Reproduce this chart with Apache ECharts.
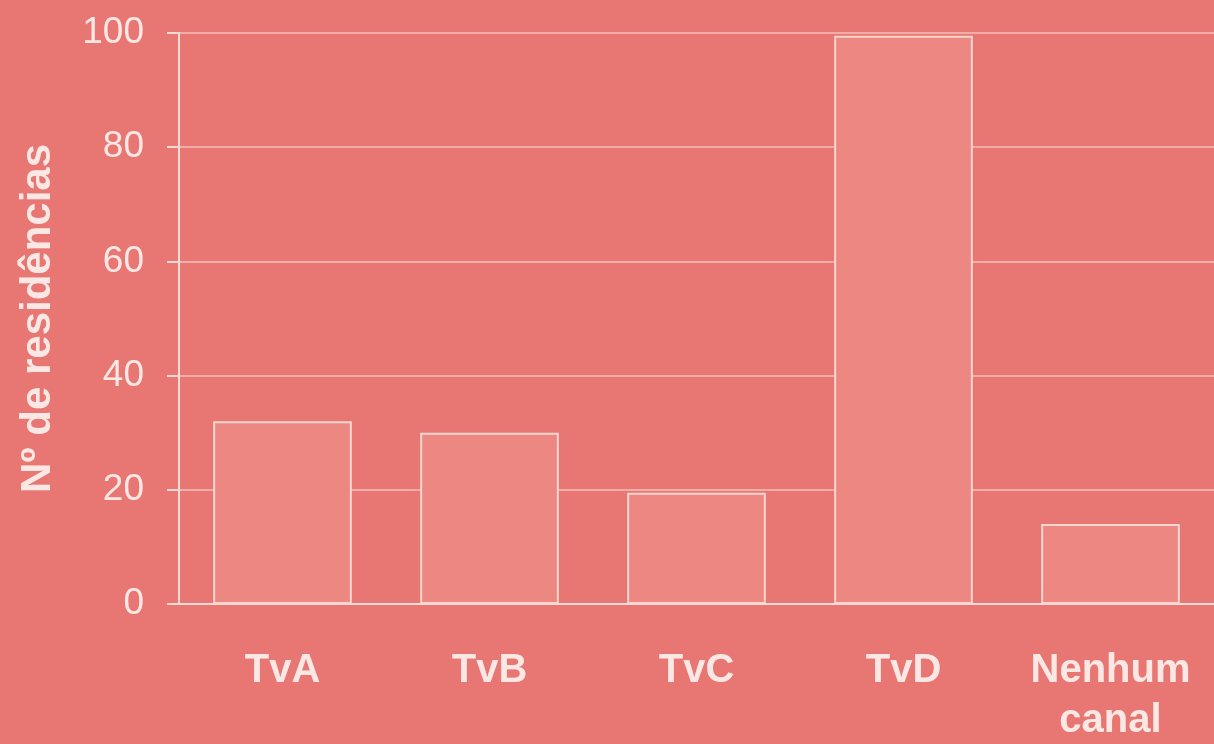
<!DOCTYPE html>
<html>
<head>
<meta charset="utf-8">
<script src="https://cdn.jsdelivr.net/npm/echarts@6/dist/echarts.min.js"></script>
<style>
  html, body { margin: 0; padding: 0; background: #E87672; }
  #chart { width: 1214px; height: 744px; }
</style>
</head>
<body>
<div id="chart"></div>
<script>
// Residências por canal de TV
const categories = ['TvA', 'TvB', 'TvC', 'TvD', 'Nenhum\ncanal'];
const residencias = [32, 30, 19.5, 99.5, 14];
const yTicks = { min: 0, max: 100, interval: 20 };
const yTitle = 'Nº de residências';

const textColor = '#FBE8E4';
const font = 'Liberation Sans, Arial, sans-serif';

const chart = echarts.init(document.getElementById('chart'), null, { renderer: 'canvas' });
chart.setOption({
  backgroundColor: '#E87672',
  animation: false,
  grid: { left: 179, right: 0, top: 33, bottom: 140, containLabel: false, outerBoundsMode: 'none' },
  xAxis: {
    type: 'category',
    data: categories,
    axisLine: { show: true, lineStyle: { color: '#F8DAD4', width: 2 } },
    axisTick: { show: false },
    axisLabel: {
      interval: 0,
      color: textColor, fontFamily: font, fontWeight: 'bold',
      fontSize: 40, lineHeight: 50, margin: 42
    },
    splitLine: { show: false }
  },
  yAxis: {
    type: 'value',
    min: yTicks.min, max: yTicks.max, interval: yTicks.interval,
    name: yTitle,
    nameLocation: 'middle',
    nameRotate: 90,
    nameGap: 120,
    nameTextStyle: { color: textColor, fontFamily: font, fontWeight: 'bold', fontSize: 42 },
    axisLine: { show: true, lineStyle: { color: '#F8DAD4', width: 2 } },
    axisTick: { show: true, length: 12, lineStyle: { color: '#F8DAD4', width: 2 } },
    axisLabel: { color: textColor, fontFamily: font, fontSize: 37, margin: 35 },
    splitLine: { show: true, lineStyle: { color: '#F4C2BC', width: 1.5 } }
  },
  series: [{
    type: 'bar',
    data: residencias,
    barCategoryGap: '33%',
    itemStyle: { color: '#EC8782', borderColor: '#F7D6D0', borderWidth: 2 }
  }]
});
</script>
</body>
</html>
